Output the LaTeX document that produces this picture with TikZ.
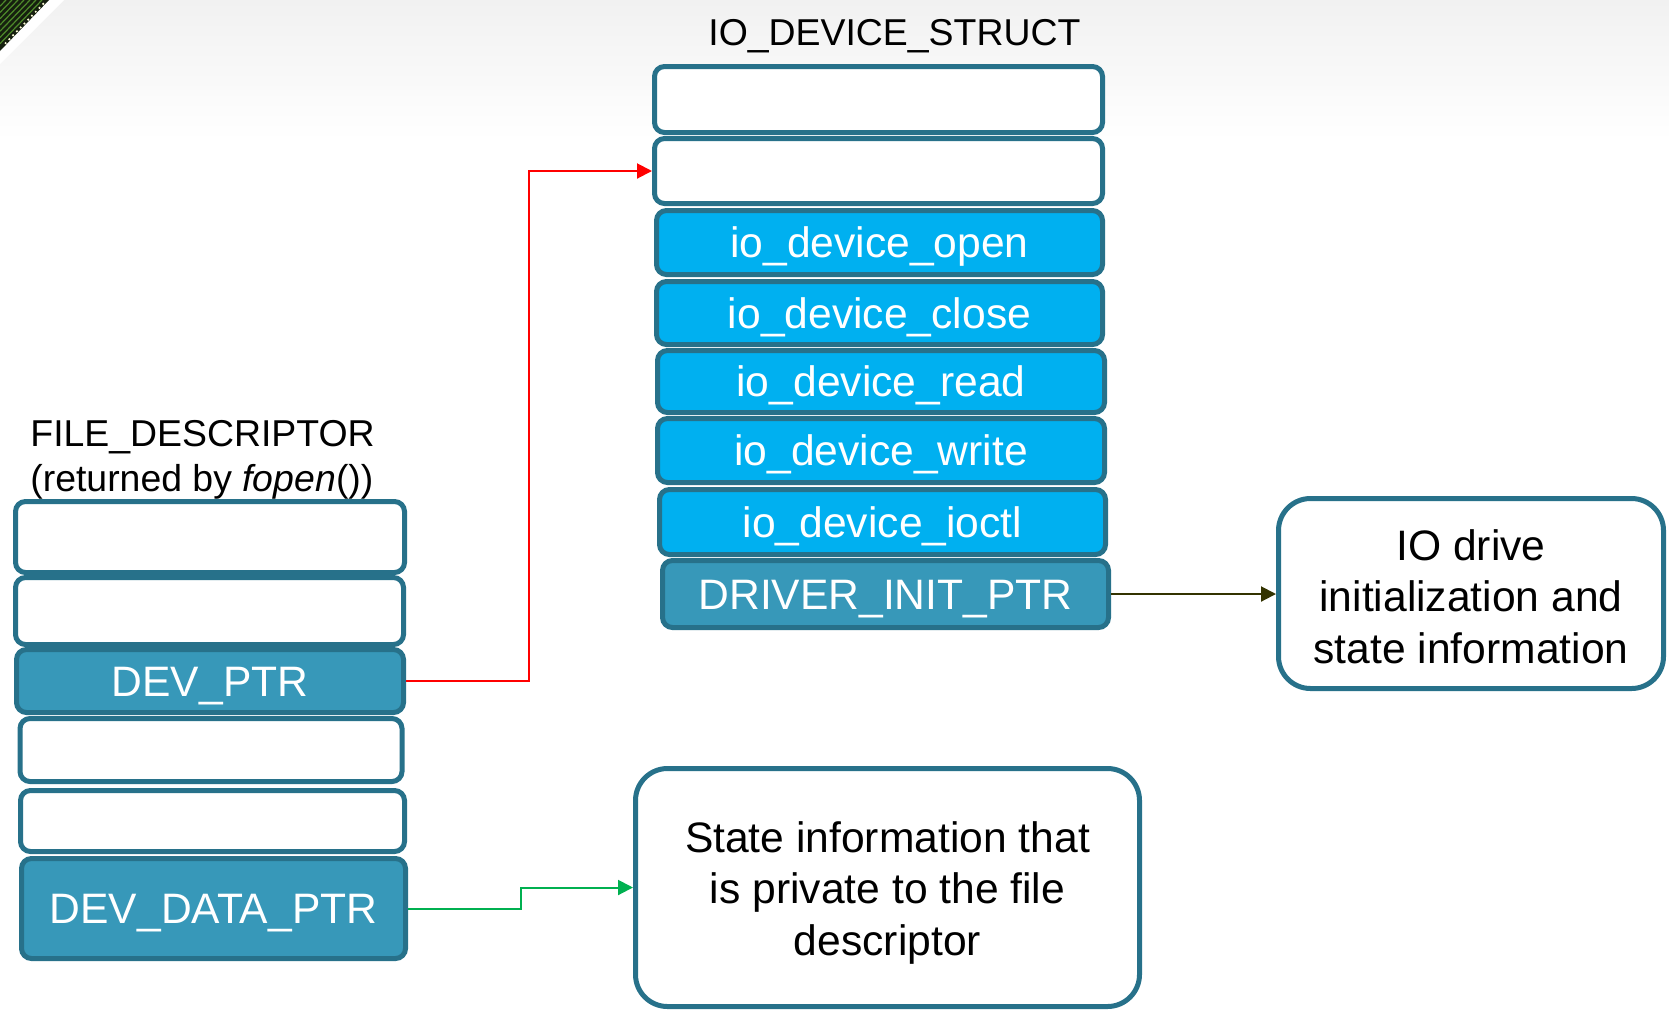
\documentclass[tikz,border=0pt]{standalone}
\usepackage{fontspec}
\setmainfont{Liberation Sans}
\usetikzlibrary{arrows.meta,calc}
\definecolor{bordc}{HTML}{27718A}
\definecolor{darkfill}{HTML}{3798B9}
\definecolor{cyanfill}{HTML}{00B0F0}
\definecolor{arrgreen}{HTML}{00B050}
\definecolor{arrolive}{HTML}{333300}
\definecolor{topgray}{HTML}{F1F1F1}
\definecolor{pcbdark}{HTML}{16200F}
\definecolor{pcbgreen}{HTML}{4E8A2A}
\begin{document}
\begin{tikzpicture}[x=0.5pt,y=-0.5pt,
  cell/.style={draw=bordc, line width=2.5pt, rounded corners=5pt, fill=white,
    inner sep=0pt, text=white, text height=18.6pt, text depth=3.2pt,
    font=\fontsize{21.3}{25}\selectfont},
  cellsize/.style 2 args={minimum width=#1*0.5pt, minimum height=#2*0.5pt},
  darkcell/.style={cell, fill=darkfill},
  cyancell/.style={cell, fill=cyanfill},
  bigbox/.style={draw=bordc, line width=2.5pt, rounded corners=16pt, fill=white,
    inner sep=0pt, align=center, font=\fontsize{21.3}{25.8}\selectfont},
  titletext/.style={inner sep=0pt, anchor=base west, font=\fontsize{18.7}{22.5}\selectfont},
  conn/.style={line width=1pt, -{Triangle[length=7.5pt,width=7.5pt]}}
]
\useasboundingbox (0,0) rectangle (1669,1013);
% slide background
\shade[top color=topgray, bottom color=white] (0,0) rectangle (1669,140);
% corner decoration
\fill[white] (0,0) -- (64,0) -- (0,64) -- cycle;
\fill[pcbdark] (0,0) -- (49,0) -- (0,51) -- cycle;
\foreach \k in {6,12,...,42} {
  \draw[pcbgreen, line width=0.6pt] (\k,0) -- (0,\k*1.04);
}
\foreach \t in {0.08,0.16,...,0.95} {
  \fill[white!85!yellow] ($(47,0)!\t!(0,49)$) circle (1.2);
}
% IO_DEVICE_STRUCT stack
\node[titletext] (iotitle) at (708,45) {IO\_DEVICE\_STRUCT};
\node[cell, cellsize={448}{66}] (s1) at (878.5,99.5) {};
\node[cell, cellsize={448}{65}] (s2) at (878.5,171) {};
\node[cyancell, cellsize={446}{64}] (open) at (879.5,242.5) {io\_device\_open};
\node[cyancell, cellsize={446}{63}] (close) at (879.5,313) {io\_device\_close};
\node[cyancell, cellsize={447}{62}] (read) at (881,381.5) {io\_device\_read};
\node[cyancell, cellsize={447}{64}] (write) at (881,450.5) {io\_device\_write};
\node[cyancell, cellsize={446}{65}] (ioctl) at (882.5,522) {io\_device\_ioctl};
\node[darkcell, cellsize={446}{67}] (drv) at (885.5,594) {DRIVER\_INIT\_PTR};
% FILE_DESCRIPTOR stack
\node[titletext] (fdtitle) at (30,446) {FILE\_DESCRIPTOR};
\node[titletext] (fdsub) at (30,491) {(returned by \textit{fopen}())};
\node[cell, cellsize={389}{71}] (f1) at (210,537) {};
\node[cell, cellsize={388}{67}] (f2) at (209.5,611) {};
\node[darkcell, cellsize={387}{63}] (devptr) at (210,681) {DEV\_PTR};
\node[cell, cellsize={382}{63}] (f4) at (211,750) {};
\node[cell, cellsize={384}{61}] (f5) at (212.5,821) {};
\node[darkcell, cellsize={384}{100}] (devdata) at (213.5,908.5) {DEV\_DATA\_PTR};
% big boxes
\node[bigbox, minimum width=385*0.5pt, minimum height=190*0.5pt] (initbox) at (1471,593.5)
  {\rule{0pt}{18.5pt}IO drive\\initialization and\\state information};
\node[bigbox, minimum width=504*0.5pt, minimum height=238*0.5pt] (statebox) at (887.5,887.5)
  {\rule{0pt}{20.8pt}State information that\\is private to the file\\descriptor};
% connectors
\coordinate (m1) at ($(devptr.east)!0.5!(s2.west)$);
\draw[conn, red] (devptr.east) -| (m1) |- (s2.west);
\coordinate (m2) at ($(devdata.east)!0.5!(statebox.west)$);
\draw[conn, arrgreen] (devdata.east) -| (m2) |- (statebox.west);
\draw[conn, arrolive] (drv.east) -- (drv.east -| initbox.west);
\end{tikzpicture}
\end{document}
